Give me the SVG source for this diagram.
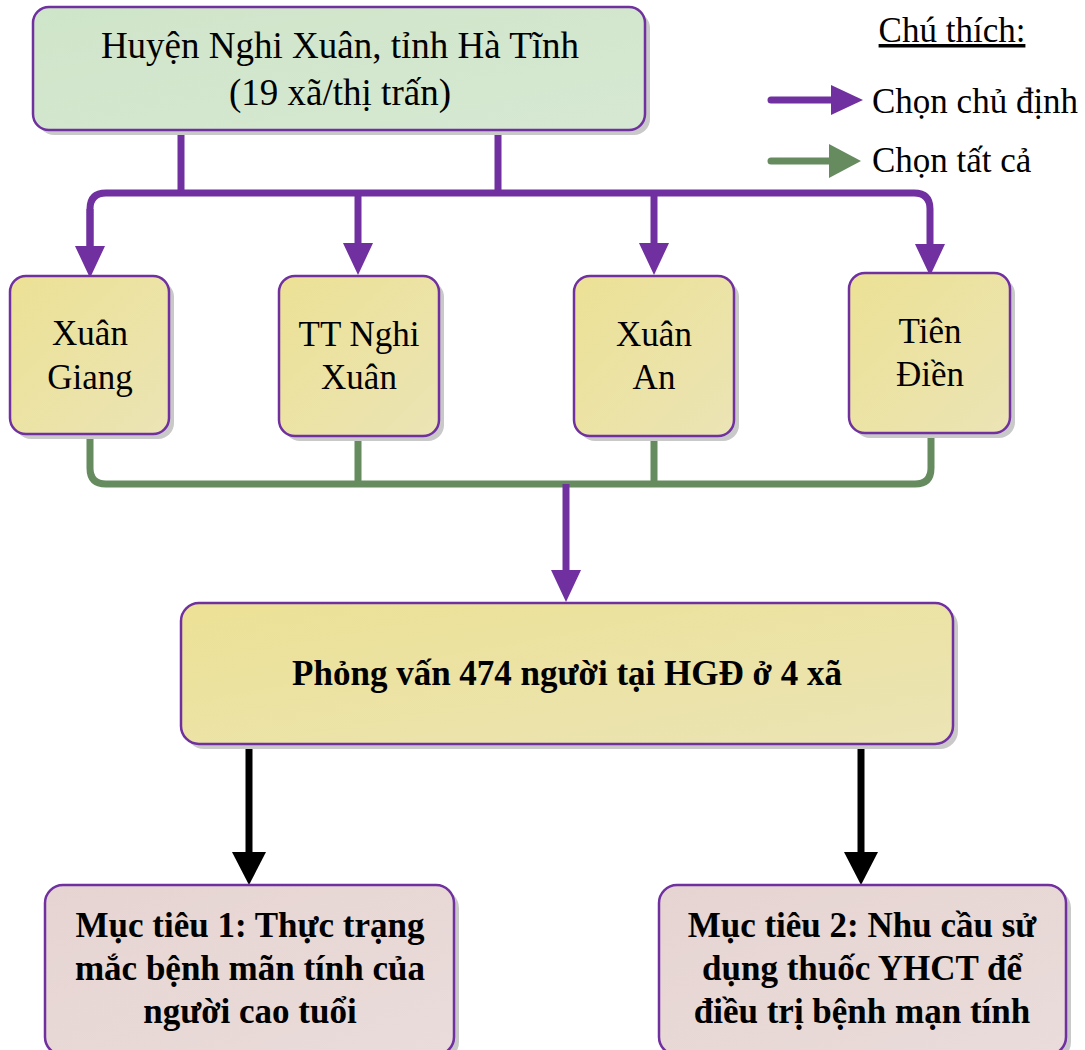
<svg xmlns="http://www.w3.org/2000/svg" width="1085" height="1050" viewBox="0 0 1085 1050">
<style>
.t{font-family:"Liberation Serif","Times New Roman",serif;fill:#000;text-anchor:middle}
.n{font-size:35px}
.h{font-size:37px}
.b{font-size:35px;font-weight:bold}
.box{stroke:#7030a0;stroke-width:2.5}
.sh{fill:#c9c9c9}
.p{fill:none;stroke:#7030a0;stroke-width:7}
.g{fill:none;stroke:#658b5f;stroke-width:7}
.k{fill:none;stroke:#000;stroke-width:7}
</style>
<defs>
<linearGradient id="gG" x1="0" y1="0" x2="1" y2="1"><stop offset="0" stop-color="#cfe5c9"/><stop offset="1" stop-color="#d6e8d2"/></linearGradient>
<linearGradient id="gY" x1="0" y1="0" x2="1" y2="1"><stop offset="0" stop-color="#ece195"/><stop offset="1" stop-color="#ebe4b5"/></linearGradient>
<linearGradient id="gR" x1="0" y1="0" x2="1" y2="1"><stop offset="0" stop-color="#e6d4d2"/><stop offset="1" stop-color="#e9dcda"/></linearGradient>
<marker id="aP" markerUnits="userSpaceOnUse" markerWidth="32" markerHeight="32" viewBox="0 0 32 32" refX="0" refY="16" orient="auto"><path d="M0,1 L32,16 L0,31 z" fill="#7030a0"/></marker>
<marker id="aG" markerUnits="userSpaceOnUse" markerWidth="32" markerHeight="34" viewBox="0 0 32 34" refX="0" refY="17" orient="auto"><path d="M0,0 L32,17 L0,34 z" fill="#658b5f"/></marker>
<marker id="aK" markerUnits="userSpaceOnUse" markerWidth="33" markerHeight="34" viewBox="0 0 33 34" refX="0" refY="17" orient="auto"><path d="M0,0 L33,17 L0,34 z" fill="#000"/></marker>
</defs>
<rect width="1085" height="1050" fill="#fff"/>

<g id="connectors">
<path class="p" d="M181,128 V193 M498,128 V193"/>
<path class="p" d="M90,247 V209 Q90,193 106,193 H914 Q930,193 930,209 V244" marker-end="url(#aP)"/>
<path class="p" d="M90,209 V246" marker-end="url(#aP)"/>
<path class="p" d="M358,193 V243" marker-end="url(#aP)"/>
<path class="p" d="M654,193 V243" marker-end="url(#aP)"/>
<path class="g" stroke-width="6" d="M358,436 V484 M654,436 V484"/>
<path class="g" stroke-width="8" d="M90,432 V468 Q90,484 106,484 H915 Q931,484 931,468 V432"/>
<path class="p" stroke-width="5" d="M566,484 V570" marker-end="url(#aP)"/>
<path class="k" d="M249,742 V852" marker-end="url(#aK)"/>
<path class="k" d="M861,742 V852" marker-end="url(#aK)"/>
</g>

<g id="legend">
<text class="t n" x="952" y="42" text-decoration="underline">Chú thích:</text>
<path class="p" stroke-linecap="round" d="M771,100 H831" marker-end="url(#aP)"/>
<text class="t n" x="872" y="113" style="text-anchor:start">Chọn chủ định</text>
<path class="g" stroke-linecap="round" d="M771,161 H829" marker-end="url(#aG)"/>
<text class="t n" x="872" y="172" style="text-anchor:start">Chọn tất cả</text>
</g>

<g id="node-huyen">
<rect class="sh" x="38" y="12" width="612" height="123" rx="16"/>
<rect class="box" x="33" y="7" width="612" height="123" rx="16" fill="url(#gG)"/>
<text class="t h" x="340" y="58">Huyện Nghi Xuân, tỉnh Hà Tĩnh</text>
<text class="t h" x="340" y="105">(19 xã/thị trấn)</text>
</g>

<g id="node-xuan-giang">
<rect class="sh" x="15" y="281" width="159" height="158" rx="16"/>
<rect class="box" x="10" y="276" width="159" height="158" rx="16" fill="url(#gY)"/>
<text class="t n" x="90" y="345">Xuân</text>
<text class="t n" x="90" y="389">Giang</text>
</g>

<g id="node-tt-nghi-xuan">
<rect class="sh" x="284" y="281" width="160" height="160" rx="16"/>
<rect class="box" x="279" y="276" width="160" height="160" rx="16" fill="url(#gY)"/>
<text class="t n" x="359" y="346">TT Nghi</text>
<text class="t n" x="359" y="389">Xuân</text>
</g>

<g id="node-xuan-an">
<rect class="sh" x="579" y="281" width="160" height="160" rx="16"/>
<rect class="box" x="574" y="276" width="160" height="160" rx="16" fill="url(#gY)"/>
<text class="t n" x="654" y="346">Xuân</text>
<text class="t n" x="654" y="389">An</text>
</g>

<g id="node-tien-dien">
<rect class="sh" x="854" y="278" width="161" height="160" rx="16"/>
<rect class="box" x="849" y="273" width="161" height="160" rx="16" fill="url(#gY)"/>
<text class="t n" x="930" y="343">Tiên</text>
<text class="t n" x="930" y="386">Điền</text>
</g>

<g id="node-phong-van">
<rect class="sh" x="186" y="608" width="772" height="141" rx="18"/>
<rect class="box" x="181" y="603" width="772" height="141" rx="18" fill="url(#gY)"/>
<text class="t b" x="567" y="685">Phỏng vấn 474 người tại HGĐ ở 4 xã</text>
</g>

<g id="node-muc-tieu-1">
<rect class="sh" x="50" y="890" width="409" height="170" rx="18"/>
<rect class="box" x="45" y="885" width="409" height="170" rx="18" fill="url(#gR)"/>
<text class="t b" x="250" y="937">Mục tiêu 1: Thực trạng</text>
<text class="t b" x="250" y="980">mắc bệnh mãn tính của</text>
<text class="t b" x="250" y="1023">người cao tuổi</text>
</g>

<g id="node-muc-tieu-2">
<rect class="sh" x="664" y="890" width="407" height="170" rx="18"/>
<rect class="box" x="659" y="885" width="407" height="170" rx="18" fill="url(#gR)"/>
<text class="t b" x="862" y="937">Mục tiêu 2: Nhu cầu sử</text>
<text class="t b" x="862" y="980">dụng thuốc YHCT để</text>
<text class="t b" x="862" y="1023">điều trị bệnh mạn tính</text>
</g>
</svg>
